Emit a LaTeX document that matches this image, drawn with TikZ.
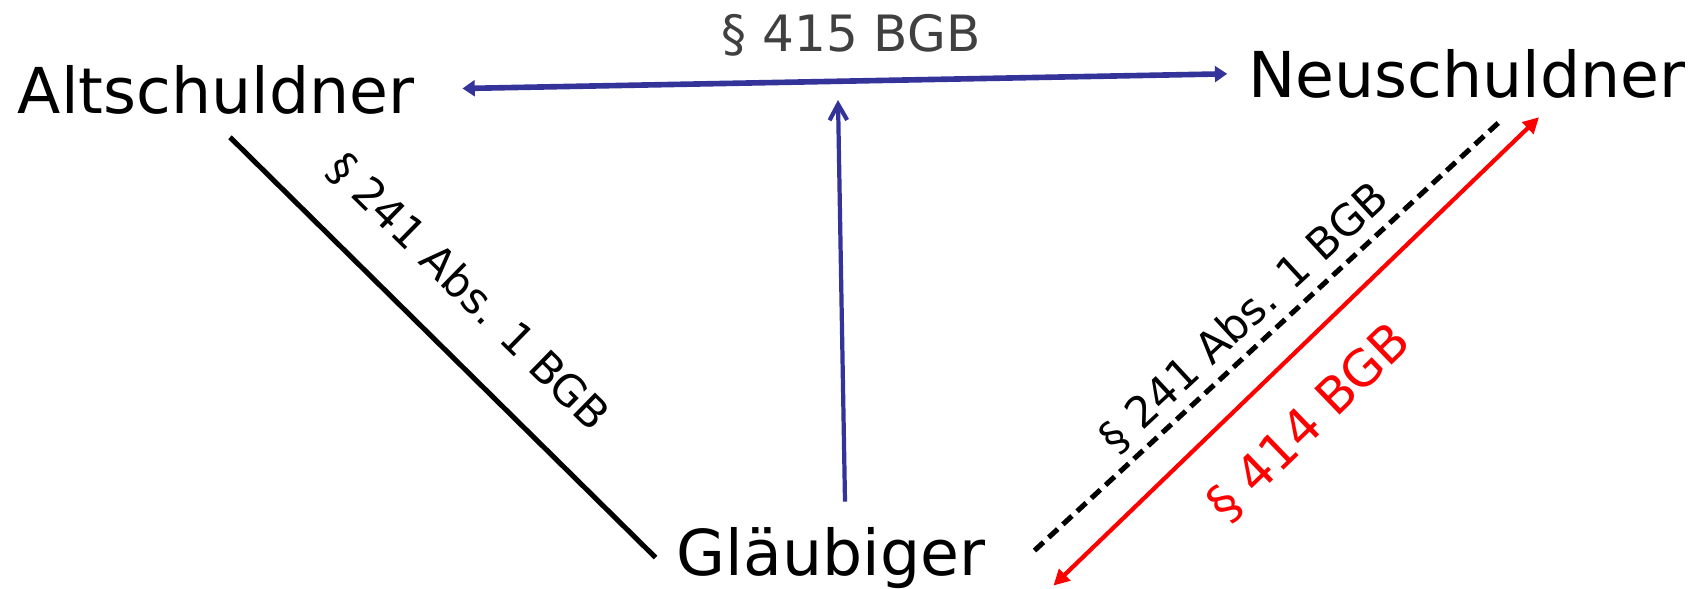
\documentclass[tikz,border=0pt]{standalone}
\usepackage{fontspec}
\setmainfont{DejaVu Sans}
\usetikzlibrary{arrows.meta,calc}
\definecolor{relblue}{RGB}{51,51,153}
\definecolor{paragray}{RGB}{64,64,64}

\begin{document}
\begin{tikzpicture}[x=0.02cm,y=-0.02cm,
  party/.style={inner sep=0pt,anchor=base,font=\fontsize{36}{40}\selectfont},
  para/.style={inner sep=0pt,font=\fontsize{28.5}{32}\selectfont},
  smallpara/.style={inner sep=0pt,font=\fontsize{24.5}{28}\selectfont}]
\useasboundingbox (0,0) rectangle (1693,588);
% the three parties
\node[party] (alt) at (216,113) {Altschuldner};
\node[party] (neu) at (1467,97) {Neuschuldner};
\node[party] (glaeub) at (831,575) {Gläubiger};
% § 415 contract between old and new debtor
\draw[relblue,line width=3.2pt,{Triangle[length=7pt,width=9pt]}-{Triangle[length=7pt,width=9pt]},
  shorten <=0.96cm,shorten >=0.42cm] (alt.east) -- (neu.west);
\node[para,text=paragray] (p415) at (851,35) {§ 415 BGB};
% consent of the creditor
\coordinate (gap) at (838,100);
\draw[relblue,line width=2.4pt,-{Straight Barb[length=9pt,width=10pt]}]
  ([shift={(14,-25)}]glaeub.north) -- (gap);
% old obligation
\draw[line width=2.9pt] ([shift={(14,23)}]alt.south) -- ([xshift=-0.42cm]glaeub.west);
\node[smallpara,rotate=-44.4] (p241a) at (468,292) {§ 241 Abs. 1 BGB};
% new obligation
\draw[line width=2.9pt,dash pattern=on 7pt off 4pt]
  ([shift={(49,-7)}]glaeub.east) -- ([shift={(32,24)}]neu.south);
\node[smallpara,rotate=42.8] (p241b) at (1244,318) {§ 241 Abs. 1 BGB};
% § 414 contract between creditor and new debtor
\draw[red,line width=2.4pt,{Triangle[length=9pt,width=9pt]}-{Triangle[length=9pt,width=9pt]}]
  ([shift={(68,28)}]glaeub.east) -- ([shift={(72,19)}]neu.south);
\node[para,red,rotate=44] (p414) at (1309,423) {§ 414 BGB};
\end{tikzpicture}
\end{document}
